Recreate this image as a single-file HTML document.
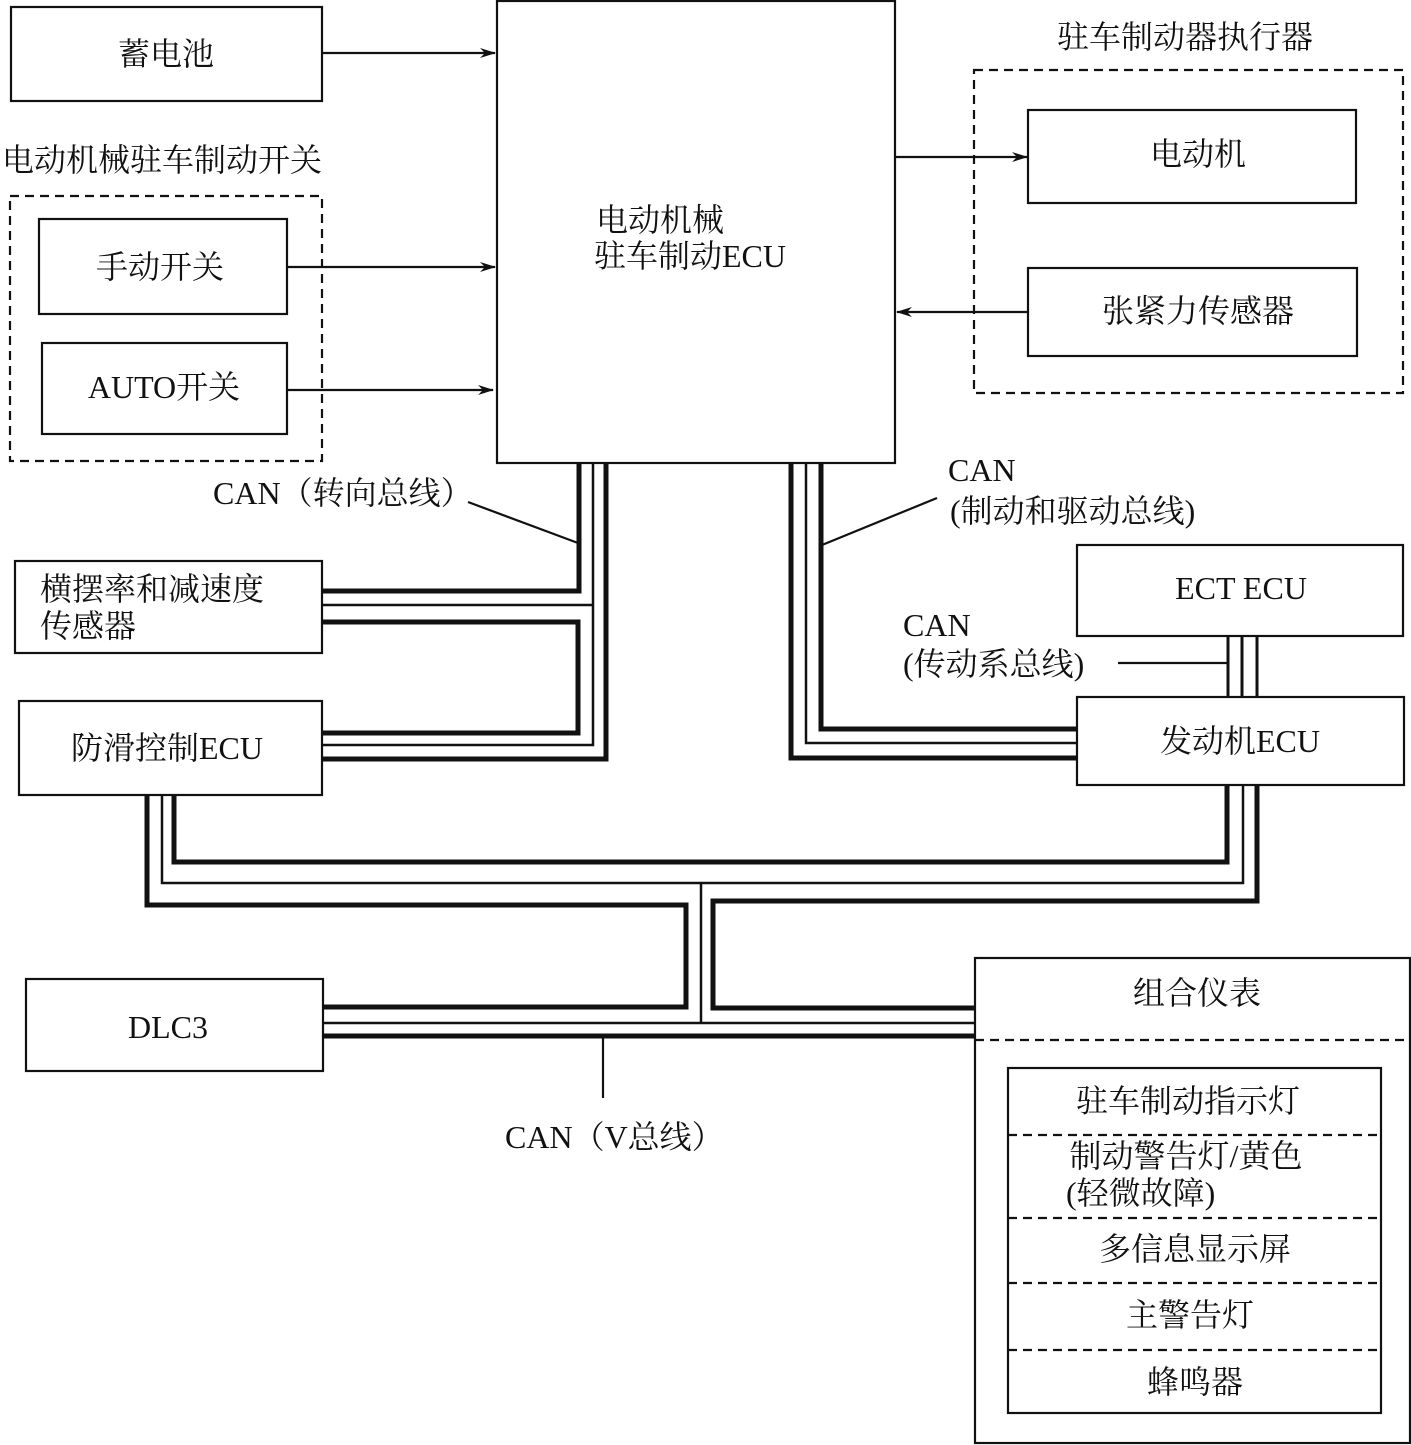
<!DOCTYPE html>
<html><head><meta charset="utf-8"><style>
html,body{margin:0;padding:0;background:#fff;}
svg{display:block;}
text{font-family:"Liberation Serif","Noto Serif CJK SC",serif;font-size:32px;fill:#111;}
</style></head><body>
<svg width="1411" height="1445" viewBox="0 0 1411 1445" xmlns="http://www.w3.org/2000/svg">
<defs><marker id="a" markerWidth="16" markerHeight="10" refX="15" refY="5" orient="auto" markerUnits="userSpaceOnUse"><path d="M0,0 L16,5 L0,10 L5,5 Z" fill="#111"/></marker></defs>
<g fill="none" stroke="#111" stroke-width="2.2">
<rect x="11" y="7" width="311" height="94"/>
<rect x="497" y="1" width="398" height="462"/>
<rect x="10" y="196" width="312" height="265" stroke-dasharray="9,6"/>
<rect x="39" y="219" width="248" height="95"/>
<rect x="42" y="343" width="245" height="91"/>
<rect x="974" y="70" width="429" height="323" stroke-dasharray="9,6"/>
<rect x="1028" y="110" width="328" height="93"/>
<rect x="1028" y="268" width="329" height="88"/>
<rect x="15" y="561" width="307" height="92"/>
<rect x="19" y="701" width="303" height="94"/>
<rect x="1077" y="545" width="326" height="91"/>
<rect x="1077" y="697" width="327" height="88"/>
<rect x="26" y="979" width="297" height="92"/>
<rect x="975" y="958" width="435" height="485"/>
<line x1="975" y1="1040" x2="1410" y2="1040" stroke-dasharray="9,6"/>
<rect x="1008" y="1068" width="373" height="345"/>
<line x1="1008" y1="1135" x2="1381" y2="1135" stroke-dasharray="9,6"/>
<line x1="1008" y1="1218" x2="1381" y2="1218" stroke-dasharray="9,6"/>
<line x1="1008" y1="1283" x2="1381" y2="1283" stroke-dasharray="9,6"/>
<line x1="1008" y1="1350" x2="1381" y2="1350" stroke-dasharray="9,6"/>
<line x1="322" y1="53" x2="495" y2="53" marker-end="url(#a)"/>
<line x1="287" y1="267" x2="495" y2="267" marker-end="url(#a)"/>
<line x1="287" y1="390" x2="493" y2="390" marker-end="url(#a)"/>
<line x1="895" y1="157" x2="1027" y2="157" marker-end="url(#a)"/>
<line x1="1028" y1="312" x2="897" y2="312" marker-end="url(#a)"/>
<line x1="468" y1="502" x2="578" y2="543"/>
<line x1="822" y1="545" x2="937" y2="498"/>
<line x1="1118" y1="663" x2="1228" y2="663"/>
<line x1="603" y1="1036" x2="603" y2="1098"/>
</g>
<g fill="none" stroke="#111" stroke-linejoin="miter">
<polyline points="579,463 579,591 322,591" stroke-width="5"/>
<polyline points="593,463 593,745 322,745" stroke-width="2.5"/>
<line x1="322" y1="605" x2="593" y2="605" stroke-width="2.5"/>
<polyline points="606,463 606,759 322,759" stroke-width="5"/>
<polyline points="322,622 578,622 578,733 322,733" stroke-width="5"/>
<polyline points="791,463 791,758 1077,758" stroke-width="5"/>
<polyline points="806,463 806,743 1077,743" stroke-width="2.5"/>
<polyline points="821,463 821,729 1077,729" stroke-width="5"/>
<line x1="1228" y1="636" x2="1228" y2="697" stroke-width="3"/>
<line x1="1242" y1="636" x2="1242" y2="697" stroke-width="3"/>
<line x1="1257" y1="636" x2="1257" y2="697" stroke-width="3"/>
<polyline points="147,795 147,905 686,905 686,1007 323,1007" stroke-width="5"/>
<polyline points="162,795 162,883 1243,883 1243,785" stroke-width="2.5"/>
<polyline points="174,795 174,862 1227,862 1227,785" stroke-width="5"/>
<polyline points="1257,785 1257,901 713,901 713,1008 975,1008" stroke-width="5"/>
<line x1="701" y1="883" x2="701" y2="1023" stroke-width="2.5"/>
<line x1="323" y1="1023" x2="975" y2="1023" stroke-width="2.5"/>
<line x1="323" y1="1036" x2="975" y2="1036" stroke-width="5"/>
</g>
<g dominant-baseline="central">
<text x="166" y="54" text-anchor="middle">蓄电池</text>
<text x="162" y="160" text-anchor="middle">电动机械驻车制动开关</text>
<text x="160" y="267" text-anchor="middle">手动开关</text>
<text x="164" y="387" text-anchor="middle">AUTO开关</text>
<text x="596" y="220">电动机械</text>
<text x="594" y="256">驻车制动ECU</text>
<text x="1185" y="37" text-anchor="middle">驻车制动器执行器</text>
<text x="1198" y="154" text-anchor="middle">电动机</text>
<text x="1198" y="311" text-anchor="middle">张紧力传感器</text>
<text x="213" y="493">CAN（转向总线）</text>
<text x="948" y="470">CAN</text>
<text x="950" y="511">(制动和驱动总线)</text>
<text x="40" y="589">横摆率和减速度</text>
<text x="40" y="626">传感器</text>
<text x="167" y="748" text-anchor="middle">防滑控制ECU</text>
<text x="1241" y="588" text-anchor="middle">ECT ECU</text>
<text x="903" y="625">CAN</text>
<text x="903" y="664">(传动系总线)</text>
<text x="1240" y="741" text-anchor="middle">发动机ECU</text>
<text x="168" y="1027" text-anchor="middle">DLC3</text>
<text x="1197" y="993" text-anchor="middle">组合仪表</text>
<text x="1188" y="1101" text-anchor="middle">驻车制动指示灯</text>
<text x="1186" y="1156" text-anchor="middle">制动警告灯/黄色</text>
<text x="1066" y="1193">(轻微故障)</text>
<text x="1195" y="1249" text-anchor="middle">多信息显示屏</text>
<text x="1190" y="1315" text-anchor="middle">主警告灯</text>
<text x="1195" y="1382" text-anchor="middle">蜂鸣器</text>
<text x="505" y="1137">CAN（V总线）</text>
</g>
</svg>
</body></html>
